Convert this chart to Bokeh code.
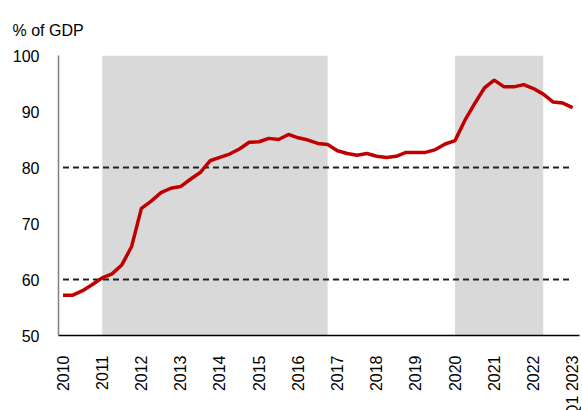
from bokeh.plotting import figure
from bokeh.models import Range1d, FixedTicker
from bokeh.embed import file_html
from bokeh.resources import INLINE

# Quarterly data 2010Q1 .. 2023Q1 (% of GDP)
quarters = [f"{y}Q{q}" for y in range(2010, 2023) for q in range(1, 5)] + ["2023Q1"]
values = [57.2, 57.2, 58.0, 59.1, 60.3, 61.0, 62.6, 65.9,
          72.7, 74.0, 75.5, 76.3, 76.6, 77.9, 79.1, 81.2,
          81.8, 82.4, 83.3, 84.5, 84.6, 85.2, 85.0, 85.9,
          85.3, 84.9, 84.3, 84.1, 83.0, 82.5, 82.2, 82.5,
          82.0, 81.8, 82.0, 82.7, 82.7, 82.7, 83.2, 84.2,
          84.8, 88.4, 91.4, 94.2, 95.6, 94.4, 94.4, 94.8,
          94.1, 93.1, 91.7, 91.5, 90.7]
shaded_start = ["2011Q1", "2020Q1"]
shaded_end = ["2016Q4", "2022Q2"]
ref_levels = [60, 80]
tick_quarters = [f"{y}Q1" for y in range(2010, 2024)]
tick_labels = [str(y) for y in range(2010, 2023)] + ["Q1 2023"]
y_ticks = [50, 60, 70, 80, 90, 100]

x = list(range(len(quarters)))
idx = {q: i for i, q in enumerate(quarters)}

p = figure(frame_width=521, frame_height=280, output_backend="svg", toolbar_location=None,
           x_range=Range1d(-0.46, 52.7), y_range=Range1d(50, 100),
           min_border_left=58, min_border_right=2, min_border_bottom=75, min_border_top=55)
p.outline_line_color = None
p.background_fill_color = "white"
p.border_fill_color = "white"
p.xgrid.visible = False
p.ygrid.visible = False

p.title.text = "% of GDP"
p.title.text_font = "Liberation Sans"
p.title.text_font_size = "16px"
p.title.text_font_style = "normal"
p.title.text_color = "#000000"
p.title.align = "left"
p.title.offset = -46
p.title.standoff = 34

# shaded periods
p.quad(left=[idx[s] for s in shaded_start], right=[idx[e] for e in shaded_end],
       bottom=[50] * len(shaded_start), top=[100] * len(shaded_start),
       fill_color="#d9d9d9", line_color=None)

# dashed reference lines
p.segment(x0=[x[0]] * len(ref_levels), x1=[x[-1]] * len(ref_levels),
          y0=ref_levels, y1=ref_levels, line_color="#222222", line_width=2,
          line_dash="6 4")

p.line(x, values, line_color="#c00000", line_width=3.5)

# axes
p.yaxis.ticker = FixedTicker(ticks=y_ticks)
p.yaxis.axis_line_color = "#808080"
p.yaxis.axis_line_width = 1.5
p.yaxis.major_tick_line_color = None
p.yaxis.minor_tick_line_color = None
p.yaxis.major_label_text_font = "Liberation Sans"
p.yaxis.major_label_text_font_size = "16px"
p.yaxis.major_label_text_color = "#000000"
p.yaxis.major_label_standoff = 13

p.xaxis.ticker = FixedTicker(ticks=[idx[q] for q in tick_quarters])
p.xaxis.major_label_overrides = {idx[q]: lab for q, lab in zip(tick_quarters, tick_labels)}
p.xaxis.major_label_orientation = 1.5708
p.xaxis.axis_line_color = "#000000"
p.xaxis.axis_line_width = 1.5
p.xaxis.major_tick_line_color = None
p.xaxis.minor_tick_line_color = None
p.xaxis.major_label_text_font = "Liberation Sans"
p.xaxis.major_label_text_font_size = "16px"
p.xaxis.major_label_text_color = "#000000"
p.xaxis.major_label_standoff = 14

open("out.html", "w").write(file_html(p, INLINE))
